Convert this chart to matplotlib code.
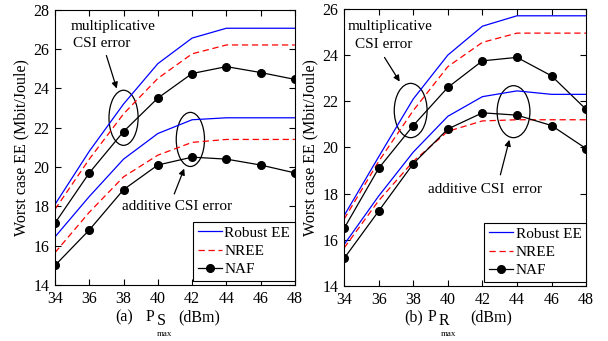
import matplotlib.pyplot as plt
from matplotlib.patches import Ellipse

plt.rcParams['font.family'] = ['Liberation Serif', 'DejaVu Serif']
plt.rcParams['font.size'] = 11

# x values (dBm)
power = [34, 36, 38, 40, 42, 44, 46, 48]

# (a) P_S_max : multiplicative CSI error
a_robust_mul = [18.1, 20.8, 23.2, 25.25, 26.55, 27.05, 27.05, 27.05]
a_nree_mul = [17.85, 20.4, 22.7, 24.5, 25.75, 26.2, 26.2, 26.2]
a_naf_mul = [17.15, 19.7, 21.8, 23.5, 24.75, 25.1, 24.8, 24.45]
# (a) additive CSI error
a_robust_add = [16.45, 18.5, 20.4, 21.7, 22.4, 22.5, 22.5, 22.5]
a_nree_add = [15.65, 17.7, 19.5, 20.6, 21.25, 21.4, 21.4, 21.4]
a_naf_add = [15.0, 16.8, 18.85, 20.1, 20.5, 20.4, 20.1, 19.7]

# (b) P_R_max : multiplicative CSI error
b_robust_mul = [17.05, 19.6, 22.1, 24.0, 25.25, 25.7, 25.7, 25.7]
b_nree_mul = [16.9, 19.4, 21.6, 23.5, 24.55, 24.95, 24.95, 24.95]
b_naf_mul = [16.5, 19.1, 20.95, 22.6, 23.75, 23.9, 23.1, 21.65]
# (b) additive CSI error
b_robust_add = [15.8, 17.9, 19.8, 21.35, 22.2, 22.45, 22.3, 22.3]
b_nree_add = [15.65, 17.7, 19.4, 20.7, 21.15, 21.2, 21.2, 21.2]
b_naf_add = [15.2, 17.25, 19.3, 20.8, 21.5, 21.4, 20.95, 19.95]

W, H = 608, 341
fig = plt.figure(figsize=(W / 100, H / 100), dpi=100)
ax1 = fig.add_axes([0.0905, 0.164, 0.3945, 0.808])
ax2 = fig.add_axes([0.566, 0.161, 0.398, 0.813])


def ptext(x, y, s, size=11.5):
    # place text by pixel position (left edge, vertical centre)
    fig.text(x / W, 1 - y / H, s, ha='left', va='center', fontsize=size)


def draw(ax, rm, nm, fm, ra, na, fa):
    ax.plot(power, rm, color='#0000ff', lw=0.9, label='Robust EE')
    ax.plot(power, nm, color='#ff0000', lw=0.9, ls=(0, (5, 3)), label='NREE')
    ax.plot(power, fm, color='k', lw=0.9, marker='o', ms=5.5, label='NAF')
    ax.plot(power, ra, color='#0000ff', lw=0.9)
    ax.plot(power, na, color='#ff0000', lw=0.9, ls=(0, (5, 3)))
    ax.plot(power, fa, color='k', lw=0.9, marker='o', ms=5.5)
    ax.set_xlim(34, 48)
    ax.set_xticks(power)
    ax.tick_params(direction='in', top=True, right=True, length=4,
                   labelsize=11.5, pad=4)
    ax.set_ylabel('Worst case EE (Mbit/Joule)', fontsize=11.5, labelpad=3)
    leg = ax.legend(loc='lower right', bbox_to_anchor=(1.0, 0.015),
                    fontsize=11, handlelength=1.6,
                    handletextpad=0.15, borderpad=0.3, labelspacing=0.3,
                    fancybox=False, edgecolor='k', framealpha=1,
                    borderaxespad=0.0)
    leg.get_frame().set_linewidth(0.8)


draw(ax1, a_robust_mul, a_nree_mul, a_naf_mul, a_robust_add, a_nree_add, a_naf_add)
ax1.set_ylim(14, 28)
ax1.set_yticks(range(14, 29, 2))
ax1.add_patch(Ellipse((38.0, 22.5), 1.7, 2.8, fill=False, ec='k', lw=0.9))
ax1.add_patch(Ellipse((41.9, 21.4), 1.65, 2.75, fill=False, ec='k', lw=0.9))
ax1.text(37.4, 27.15, 'multiplicative', ha='center', va='center', fontsize=11)
ax1.text(36.75, 26.3, 'CSI error', ha='center', va='center', fontsize=11)
ax1.annotate('', xy=(37.65, 23.85), xytext=(36.95, 25.8),
             arrowprops=dict(arrowstyle='-|>', color='k', lw=0.9, mutation_scale=9))
ax1.text(41.1, 18.0, 'additive CSI error', ha='center', va='center', fontsize=11)
ax1.annotate('', xy=(41.6, 20.05), xytext=(40.9, 18.5),
             arrowprops=dict(arrowstyle='-|>', color='k', lw=0.9, mutation_scale=9))

# x label (a): P with subscript S and sub-subscript max
ptext(115, 317, '(a)')
ptext(146, 317, 'P')
ptext(157, 321, 'S')
ptext(157, 334, 'max', size=6.5)
ptext(178, 317, '(dBm)')

draw(ax2, b_robust_mul, b_nree_mul, b_naf_mul, b_robust_add, b_nree_add, b_naf_add)
ax2.set_ylim(14, 26)
ax2.set_yticks(range(14, 27, 2))
ax2.add_patch(Ellipse((37.85, 21.6), 1.9, 2.35, fill=False, ec='k', lw=0.9))
ax2.add_patch(Ellipse((43.8, 21.55), 1.9, 2.25, fill=False, ec='k', lw=0.9))
ax2.text(36.65, 25.25, 'multiplicative', ha='center', va='center', fontsize=11)
ax2.text(36.3, 24.45, 'CSI error', ha='center', va='center', fontsize=11)
ax2.annotate('', xy=(37.3, 22.75), xytext=(36.25, 24.0),
             arrowprops=dict(arrowstyle='-|>', color='k', lw=0.9, mutation_scale=9))
ax2.text(42.15, 18.2, 'additive CSI  error', ha='center', va='center', fontsize=11)
ax2.annotate('', xy=(43.6, 20.45), xytext=(43.0, 18.7),
             arrowprops=dict(arrowstyle='-|>', color='k', lw=0.9, mutation_scale=9))

# x label (b)
ptext(404, 317, '(b)')
ptext(428, 317, 'P')
ptext(439, 321, 'R')
ptext(441, 334, 'max', size=6.5)
ptext(470, 317, '(dBm)')

fig.savefig('out.png', dpi=100)
